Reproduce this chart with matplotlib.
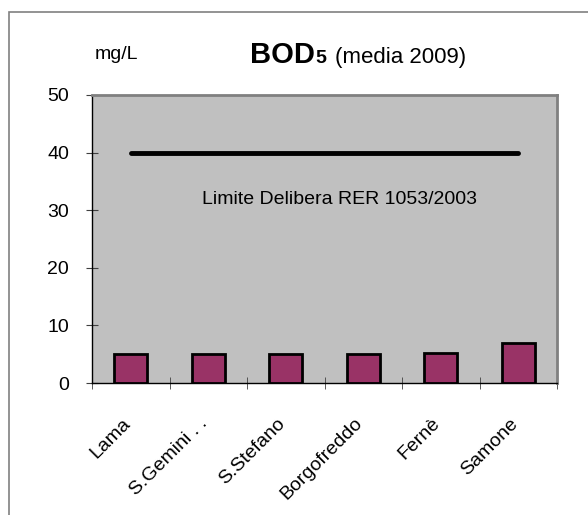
import matplotlib
matplotlib.use("Agg")
import matplotlib.pyplot as plt
import matplotlib.transforms as mtransforms
import numpy as np
from matplotlib.patches import Rectangle

STATIONS = ["Lama", "S.Gemini . .", "S.Stefano", "Borgofreddo", "Fernè", "Samone"]
BOD5 = [5.0, 5.0, 5.0, 5.0, 5.25, 7.0]
LIMIT = 40
LIMIT_LABEL = "Limite Delibera RER 1053/2003"
Y_TICKS = [0, 10, 20, 30, 40, 50]

plt.rcParams["font.family"] = ["Liberation Sans", "DejaVu Sans"]

fig = plt.figure(figsize=(5.88, 5.15), dpi=100)
fig.patches.append(Rectangle((9 / 588, -0.1), 1.2, 0.1 + 1 - 12 / 515, transform=fig.transFigure,
                             fill=False, ec="#808080", lw=1.2))

ax = fig.add_axes([92 / 588, 132 / 515, 465 / 588, 288 / 515])
ax.set_facecolor("#c0c0c0")

x = np.arange(len(STATIONS))
ax.bar(x, BOD5, width=0.43, color="#993366", edgecolor="black", lw=2, zorder=3)
ax.plot([x[0], x[-1]], [LIMIT, LIMIT], color="black", lw=3.5, solid_capstyle="round", zorder=3)
ax.text(np.mean(x) + 0.19, 31.8, LIMIT_LABEL, ha="center", va="center", fontsize=14)

ax.set_xlim(-0.5, len(STATIONS) - 0.5)
ax.set_ylim(0, 50)
ax.set_yticks(Y_TICKS)
ax.set_xticks(x, STATIONS, rotation=45, ha="right", fontsize=14)
ax.set_xticks(np.arange(-0.5, len(STATIONS)), minor=True)
ax.tick_params(axis="x", which="major", length=0, pad=23)
ax.tick_params(axis="x", which="minor", direction="inout", length=9, color="#404040")
ax.tick_params(axis="y", direction="inout", length=9, color="#404040", labelsize=14, pad=12)

# nudge the slanted labels a few pixels right, as in the original
shift = mtransforms.ScaledTranslation(3 / 100, 0, fig.dpi_scale_trans)
for lab in ax.get_xticklabels():
    lab.set_transform(lab.get_transform() + shift)

for s in ("top", "right"):
    ax.spines[s].set_color("#808080")
    ax.spines[s].set_linewidth(2)
for s in ("left", "bottom"):
    ax.spines[s].set_color("black")
    ax.spines[s].set_linewidth(1)

fig.text(95 / 588, 1 - 59 / 515, "mg/L", fontsize=14, va="baseline")
fig.text(250 / 588, 1 - 63 / 515, "BOD", fontsize=21, fontweight="bold", va="baseline")
fig.text(315 / 588, 1 - 63 / 515, "5", fontsize=14, fontweight="bold", va="baseline")
fig.text(335 / 588, 1 - 63 / 515, "(media 2009)", fontsize=16, va="baseline")

fig.savefig("out.png", dpi=100)
